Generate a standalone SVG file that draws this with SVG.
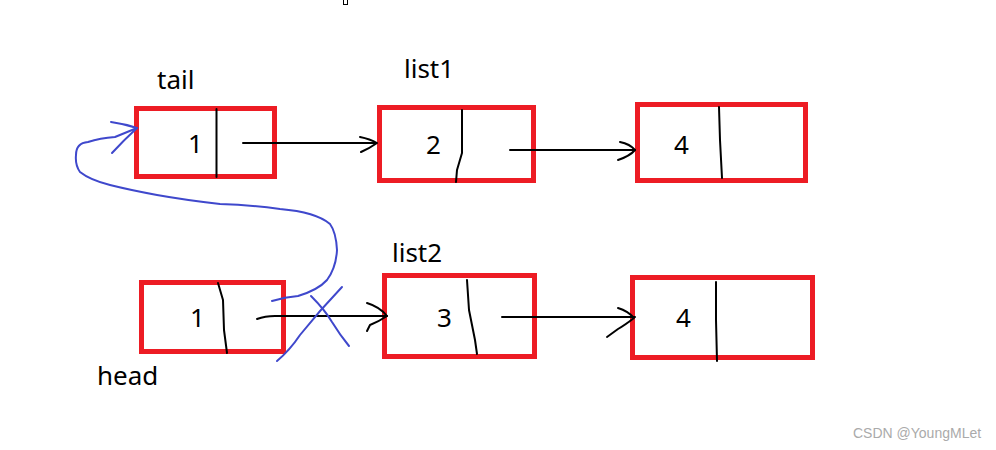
<svg xmlns="http://www.w3.org/2000/svg" width="996" height="450" viewBox="0 0 996 450">
<style>
.box{fill:none;stroke:#ED1C24;stroke-width:5}
.div{fill:none;stroke:#000;stroke-width:2;stroke-linecap:round;stroke-linejoin:round}
.num{font-family:"Noto Sans","Liberation Sans",sans-serif;font-size:26px;fill:#000}
.lbl{font-family:"Noto Sans","Liberation Sans",sans-serif;font-size:26px;fill:#000}
.ln{fill:none;stroke:#000;stroke-width:2;stroke-linecap:round;stroke-linejoin:round}
.bl{fill:none;stroke:#3F48CC;stroke-width:2;stroke-linecap:round;stroke-linejoin:round}
.wm{font-family:"Liberation Sans",Arial,sans-serif;font-size:14px;fill:#aaa}
</style>
<rect width="996" height="450" fill="#fff"/>
<rect x="343.5" y="-0.5" width="4" height="5" fill="none" stroke="#000" stroke-width="1"/>

<g id="label-tail"><text class="lbl" x="157" y="89">tail</text></g>
<g id="label-list1"><text class="lbl" x="404" y="78">list1</text></g>
<g id="label-list2"><text class="lbl" x="392" y="262">list2</text></g>
<g id="label-head"><text class="lbl" x="97" y="385">head</text></g>

<g id="node-tail">
<rect class="box" x="136.5" y="108.5" width="138" height="68"/>
<path class="div" d="M216.5 109 L216.5 177"/>
<text class="num" x="188" y="153">1</text>
</g>
<g id="node-2">
<rect class="box" x="379.5" y="107.5" width="154" height="73"/>
<path class="div" d="M462 110 L462 153 L457 170 L456 182"/>
<text class="num" x="426" y="154">2</text>
</g>
<g id="node-4a">
<rect class="box" x="637.5" y="104.5" width="168" height="76"/>
<path class="div" d="M719 107 L720 140 L722 178"/>
<text class="num" x="674" y="154">4</text>
</g>
<g id="node-head">
<rect class="box" x="141.5" y="282.5" width="142" height="69"/>
<path class="div" d="M218 283 L223 300 L224 330 L227 353"/>
<text class="num" x="190" y="327">1</text>
</g>
<g id="node-3">
<rect class="box" x="384.5" y="275.5" width="150" height="81"/>
<path class="div" d="M467 280 L469 310 L475 340 L477 354"/>
<text class="num" x="437" y="327">3</text>
</g>
<g id="node-4b">
<rect class="box" x="632.5" y="277.5" width="180" height="80"/>
<path class="div" d="M716 282 L716 320 L717 361"/>
<text class="num" x="676" y="327">4</text>
</g>

<g id="connectors">
<path class="ln" d="M243 143 L375 143"/>
<path class="ln" d="M360 137 Q370 139 377 143 Q370 148 361 152"/>
<path class="ln" d="M510 150 L635 150"/>
<path class="ln" d="M620 142 Q630 144 635 150 Q630 156 618 160"/>
<path class="ln" d="M257 319 Q265 316 275 316 L387 316"/>
<path class="ln" d="M367 303 Q380 307 387 316 Q378 322 370 325 L367 331"/>
<path class="ln" d="M502 317 L635 317"/>
<path class="ln" d="M618 308 Q628 311 634 318 Q625 325 618 329 L607 337"/>
<path class="bl" d="M272 301 Q285 297 298 296 Q318 290 327 280 Q336 268 337 250 Q336 232 330 224 Q316 212 280 209 Q250 205 220 204 Q185 200 157 195 Q130 190 110 185 Q90 180 80 172 Q75 165 76 155 Q76 143 88 142 Q100 138 115 137 L137 128"/>
<path class="bl" d="M111 122 Q125 124 137 128 Q124 140 112 153"/>
<path class="bl" d="M342 287 Q320 310 300 335 Q290 350 277 361"/>
<path class="bl" d="M311 296 Q325 310 332 322 Q340 335 349 346"/>
</g>

<text class="wm" x="853" y="438">CSDN @YoungMLet</text>
</svg>
